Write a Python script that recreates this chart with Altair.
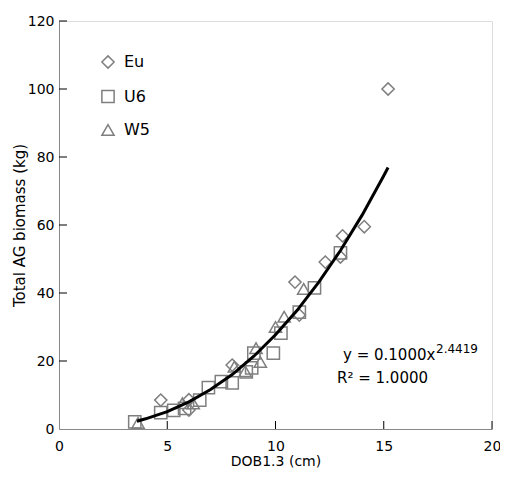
import altair as alt
import pandas as pd

# ---- data ----
eu_x = [4.7, 6.0, 6.0, 8.0, 11.1, 10.9, 12.3, 13.0, 13.1, 14.1, 15.2]
eu_y = [8.5, 8.6, 5.6, 18.8, 33.5, 43.2, 49.1, 50.6, 56.8, 59.5, 100.0]

u6_x = [3.5, 4.7, 5.3, 5.8, 6.5, 6.9, 7.5, 8.0, 8.65, 8.9, 9.0, 9.9, 10.25, 11.1, 11.8, 13.0]
u6_y = [2.1, 4.8, 5.5, 6.1, 8.5, 12.2, 13.9, 13.6, 16.8, 18.0, 22.3, 22.3, 28.2, 34.4, 41.5, 51.8]

w5_x = [3.65, 5.7, 6.2, 8.1, 8.6, 9.1, 9.3, 10.0, 10.4, 11.3]
w5_y = [1.8, 7.6, 7.5, 18.3, 17.0, 23.8, 19.7, 30.0, 33.0, 41.2]

curve_x = [3.6, 4, 5, 6, 7, 8, 9, 10, 11, 12, 13, 14, 15, 15.2]
curve_y = [2.3, 3.0, 5.1, 8.0, 11.6, 16.0, 21.4, 27.7, 34.9, 43.2, 52.5, 62.9, 74.5, 76.9]

groups = ["Eu", "U6", "W5"]
shapes = ["diamond", "square", "triangle-up"]

x_ticks = [0, 5, 10, 15, 20]
y_ticks = [0, 20, 40, 60, 80, 100, 120]

eq_line1 = ["y = 0.1000x"]
eq_exp = ["2.4419"]
eq_line2 = ["R\u00b2 = 1.0000"]

x_title = "DOB1.3 (cm)"
y_title = "Total AG biomass (kg)"

# ---- build tables ----
rows = []
for g, xs, ys in zip(groups, [eu_x, u6_x, w5_x], [eu_y, u6_y, w5_y]):
    rows += [{"group": g, "dob": a, "biomass": b} for a, b in zip(xs, ys)]
pts = pd.DataFrame(rows)
curve = pd.DataFrame({"dob": curve_x, "biomass": curve_y})

W, H = 433, 408
FONT = "DejaVu Sans"
GRAY = "#7f7f7f"

xscale = alt.Scale(domain=[0, 20], nice=False)
yscale = alt.Scale(domain=[0, 120], nice=False)

xaxis = alt.Axis(values=x_ticks, ticks=False, tickSize=0, grid=False, labelFlush=False,
                 labelFontSize=14, labelPadding=10, titleFontSize=14,
                 titlePadding=1, titleFontWeight="normal",
                 labelFont=FONT, titleFont=FONT)
yaxis = alt.Axis(values=y_ticks, ticks=False, tickSize=0, grid=False, labelFlush=False,
                 labelFontSize=14, labelPadding=5, titleFontSize=15,
                 titlePadding=0, titleFontWeight="normal",
                 labelFont=FONT, titleFont=FONT)

points = alt.Chart(pts).mark_point(filled=False, strokeWidth=1.5, color=GRAY, size=150, opacity=1).encode(
    x=alt.X("dob:Q", scale=xscale, axis=xaxis, title=x_title),
    y=alt.Y("biomass:Q", scale=yscale, axis=yaxis, title=y_title),
    shape=alt.Shape("group:N", scale=alt.Scale(domain=groups, range=shapes),
                    legend=alt.Legend(orient="none", legendX=41, legendY=33, title=None,
                                      labelFontSize=16, labelFont=FONT, symbolSize=150,
                                      symbolStrokeWidth=1.5, symbolStrokeColor=GRAY,
                                      symbolFillColor="transparent", rowPadding=14.5,
                                      labelOffset=8, padding=0)),
)

line = alt.Chart(curve).mark_line(color="black", strokeWidth=3).encode(
    x=alt.X("dob:Q", scale=xscale),
    y=alt.Y("biomass:Q", scale=yscale),
)

xt = alt.Chart(pd.DataFrame({"v": x_ticks[1:]})).mark_rule(color="black", strokeWidth=1).encode(
    x=alt.X("v:Q", scale=xscale), y=alt.value(H), y2=alt.value(H - 8))
yt = alt.Chart(pd.DataFrame({"v": y_ticks[1:]})).mark_rule(color="black", strokeWidth=1).encode(
    y=alt.Y("v:Q", scale=yscale), x=alt.value(0), x2=alt.value(8))

t1 = alt.Chart(pd.DataFrame({"t": eq_line1})).mark_text(
    align="left", baseline="middle", fontSize=15, font=FONT, color="black").encode(
    text="t:N", x=alt.value(284), y=alt.value(334))
t2 = alt.Chart(pd.DataFrame({"t": eq_exp})).mark_text(
    align="left", baseline="middle", fontSize=12, font=FONT, color="black").encode(
    text="t:N", x=alt.value(377), y=alt.value(328))
t3 = alt.Chart(pd.DataFrame({"t": eq_line2})).mark_text(
    align="left", baseline="middle", fontSize=15, font=FONT, color="black").encode(
    text="t:N", x=alt.value(278), y=alt.value(357))

chart = alt.layer(points, line, xt, yt, t1, t2, t3).properties(
    width=W, height=H,
    autosize=alt.AutoSizeParams(type="none"),
    padding={"left": 51, "top": 13, "right": 8, "bottom": 41},
).configure_view(stroke="black", strokeWidth=1).configure_axis(
    domainColor="black", domainWidth=1, labelColor="black", titleColor="black"
).configure(background="white")

chart.save("out.html", embed_options={"renderer": "svg", "actions": False})
